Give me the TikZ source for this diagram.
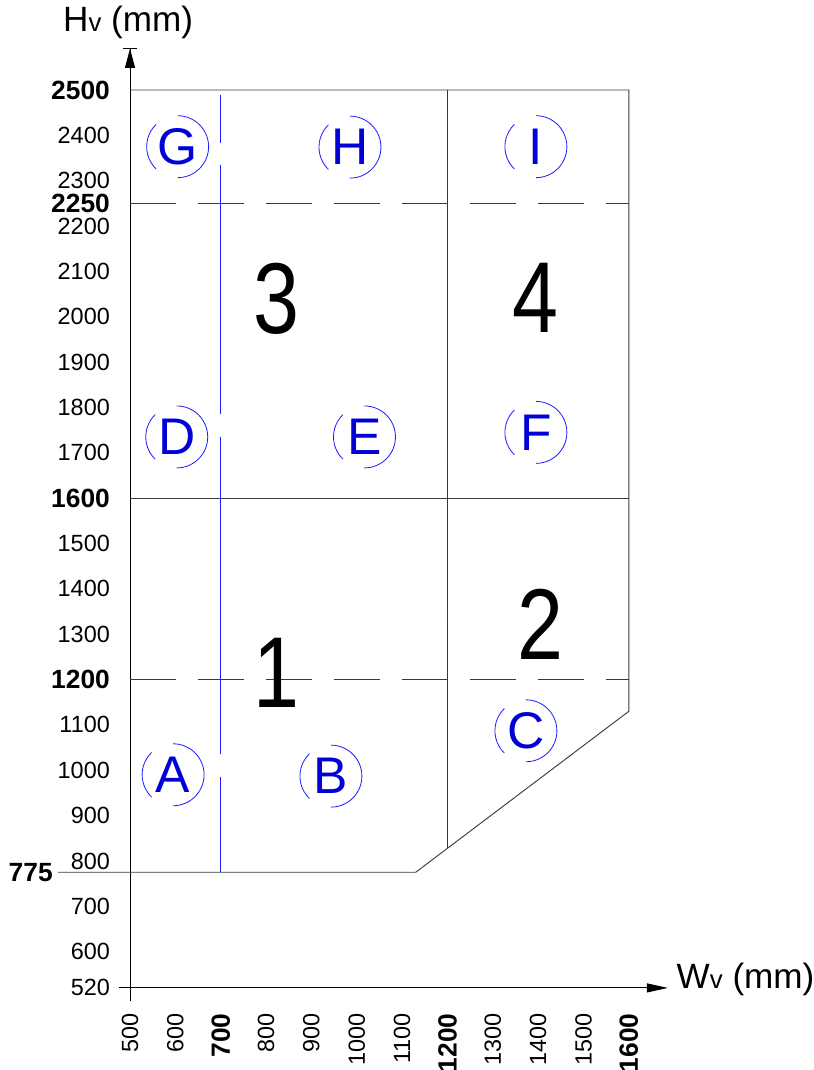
\documentclass[tikz,border=0pt]{standalone}
\usepackage{fontspec}
\setmainfont{Liberation Sans}
\newfontfamily\narrowsans[FakeStretch=0.82]{Liberation Sans}
\usetikzlibrary{arrows.meta}
\definecolor{zoneblue}{RGB}{0,0,215}
\definecolor{gridblue}{RGB}{30,30,255}
\definecolor{edgegray}{RGB}{60,60,60}

\begin{document}
\begin{tikzpicture}[x=0.013605cm,y=0.013605cm,
  axis/.style={line width=0.8pt,black},
  rim/.style={line width=0.8pt,edgegray},
  cutline/.style={draw=gridblue,line width=1.2pt},
  tick/.style={font=\fontsize{20}{20}\selectfont,inner sep=0pt},
  tickb/.style={font=\fontsize{22.5}{22.5}\selectfont\bfseries,inner sep=0pt},
  title/.style={font=\fontsize{30}{30}\selectfont,inner sep=0pt},
  zone/.style={text=zoneblue,font=\fontsize{44}{44}\selectfont,inner sep=0pt},
  ring/.style={line width=0.7pt,gridblue},
  part/.style={font=\narrowsans\fontsize{86}{86}\selectfont,inner sep=0pt}]
  \useasboundingbox (213.3,339) rectangle (2006.1,2698.5);
  % axes
  \coordinate (ybot) at (500,492);
  \coordinate (ytop) at (500,2593);
  \coordinate (xl) at (476,520);
  \coordinate (xr) at (1686,520);
  \draw[axis,-{Triangle[length=0.57cm,width=0.3cm]Bar[width=0.4cm]}] (ybot) -- (ytop);
  \draw[axis,-{Triangle[length=0.63cm,width=0.27cm]}] (xl) -- (xr);
  \node[title] (hv) at (496,2650) {H{\fontsize{22}{22}\selectfont v} (mm)};
  \node[title,anchor=west] (wv) at (1705,538) {W{\fontsize{22}{22}\selectfont v} (mm)};
  % ticks
  \foreach \v in {2400,2300,2200,2100,2000,1900,1800,1700,1500,1400,1300,1100,1000,900,800,700,600,520}
    \node[tick,anchor=east] (y\v) at (456,\v) {\v};
  \foreach \v in {2500,2250,1600,1200}
    \node[tickb,anchor=east] (y\v) at (456,\v) {\v};
  \node[tickb,anchor=east] (y775) at (330,775) {775};
  \foreach \v in {500,600,800,900,1000,1100,1300,1400,1500}
    \node[tick,rotate=90,anchor=east] (x\v) at (\v,464) {\v};
  \foreach \v in {700,1200,1600}
    \node[tickb,rotate=90,anchor=east] (x\v) at (\v,464) {\v};
  % outline
  \coordinate (tl) at (500,2500);
  \coordinate (tr) at (1600,2500);
  \coordinate (rc) at (1600,1130);
  \coordinate (bc) at (1130,775);
  \coordinate (bl) at (341,775);
  \coordinate (ml) at (500,1600);
  \coordinate (mr) at (1600,1600);
  \coordinate (vt) at (1200,2500);
  \coordinate (vb) at (1200,827.9);
  \draw[rim] (tl) -- (tr) -- (rc) -- (bc) -- (bl);
  \draw[rim] (ml) -- (mr);
  \draw[rim] (vt) -- (vb);
  % cut lines
  \coordinate (ul) at (500,2250);
  \coordinate (ur) at (1600,2250);
  \coordinate (ll) at (500,1200);
  \coordinate (lr) at (1600,1200);
  \coordinate (st) at (700,2489);
  \coordinate (sb) at (700,775);
  \path[cutline,dash pattern=on 0.51cm off 0.69cm on 0.69cm off 1.35cm on 7.5cm off 0.6cm on 4.2cm off 0.6cm on 6.72cm] (vt) -- (vb);
  \path[cutline,dash pattern=on 1.38cm off 0.66cm] (ul) -- (ur);
  \path[cutline,dash pattern=on 1.38cm off 0.66cm] (ll) -- (lr);
  \path[cutline,dash pattern=on 1.44cm off 0.66cm on 7.47cm off 0.69cm on 9.51cm off 0.69cm on 2.88cm] (st) -- (sb);
  % zones
  \foreach \n/\x/\y in {G/605/2375,H/985/2374,I/1395/2375,D/603/1735,E/1017/1735,F/1395/1745,A/595/990,B/943/987,C/1373/1087}{
    \node[zone] (z\n) at (\x,\y) {\n};
    \draw[ring] ([shift={(134:0.93cm)}]z\n.center) arc[start angle=134,end angle=226,radius=0.93cm];
    \draw[ring] ([shift={(-90:0.93cm)}]z\n.center) arc[start angle=-90,end angle=90,radius=0.93cm];
  }
  % parts
  \node[part] (p1) at (822,1215) {1};
  \node[part] (p2) at (1406,1322) {2};
  \node[part] (p3) at (823,2040) {3};
  \node[part] (p4) at (1394,2042) {4};
\end{tikzpicture}
\end{document}
